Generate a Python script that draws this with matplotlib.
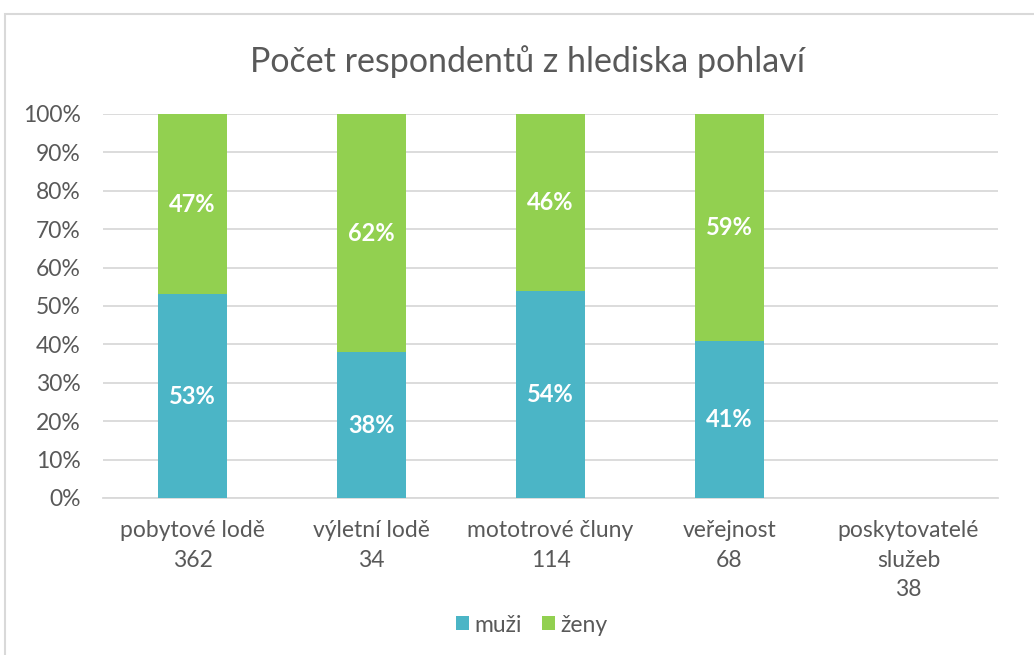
import matplotlib
matplotlib.use("Agg")
import matplotlib.pyplot as plt
import matplotlib.patches as mpatches
import numpy as np

# ── Data ──────────────────────────────────────────────────────────────────────
categories = ["pobytové lodě", "výletní lodě", "mototrové čluny", "veřejnost",
              "poskytovatelé\nslužeb"]
respondents = [362, 34, 114, 68, 38]
muzi = [53, 38, 54, 41, np.nan]
zeny = [47, 62, 46, 59, np.nan]
y_ticks = [0, 10, 20, 30, 40, 50, 60, 70, 80, 90, 100]

# ── Style ─────────────────────────────────────────────────────────────────────
C_MUZI = "#4BB5C6"
C_ZENY = "#92D050"
C_TEXT = "#595959"
C_GRID = "#D9D9D9"
FS_TICK = 16.5

plt.rcParams.update({
    "font.family": ["Lato", "DejaVu Sans"],
    "text.color": C_TEXT,
    "xtick.color": C_TEXT,
    "ytick.color": C_TEXT,
})

fig = plt.figure(figsize=(10.34, 6.55), dpi=100)
ax = fig.add_axes([103 / 1034, 1 - 498 / 655, 895 / 1034, 384 / 655])

# chart frame
fig.patches.append(mpatches.Rectangle(
    (5 / 1034, -0.05), 1.2, 1 - 14 / 655 + 0.05, transform=fig.transFigure,
    fill=False, edgecolor=C_GRID, linewidth=1.5, zorder=0))

x = np.arange(len(categories))
width = 0.39
b1 = ax.bar(x, muzi, width, color=C_MUZI, label="muži", zorder=3)
b2 = ax.bar(x, zeny, width, bottom=muzi, color=C_ZENY, label="ženy", zorder=3)

for bars, vals, base in ((b1, muzi, [0] * 5), (b2, zeny, muzi)):
    for xi, v, b in zip(x, vals, base):
        if np.isnan(v):
            continue
        ax.text(xi, b + v / 2, f"{v:.0f}%", ha="center", va="center",
                color="white", fontsize=17, fontweight="bold", zorder=4)

ax.set_xlim(-0.5, len(categories) - 0.5)
ax.set_ylim(0, 100)
ax.set_yticks(y_ticks)
ax.set_yticklabels([f"{t}%" for t in y_ticks], fontsize=FS_TICK)
ax.set_xticks(x)
ax.set_xticklabels([f"{c}\n{n}" for c, n in zip(categories, respondents)],
                   fontsize=FS_TICK, linespacing=1.5)
ax.tick_params(length=0)
ax.tick_params(axis="x", pad=16)
ax.tick_params(axis="y", pad=16)

ax.yaxis.grid(True, color=C_GRID, linewidth=1.3, zorder=0)
ax.set_axisbelow(True)
for s in ("top", "right", "left"):
    ax.spines[s].set_visible(False)
ax.spines["bottom"].set_color(C_GRID)
ax.spines["bottom"].set_linewidth(1.3)

fig.text(528 / 1034, 1 - 62 / 655, "Počet respondentů z hlediska pohlaví",
         ha="center", va="center", fontsize=24.5, color=C_TEXT)

fig.legend(handles=[b1, b2], loc="center", bbox_to_anchor=(532 / 1034, 1 - 625 / 655),
           ncol=2, frameon=False, fontsize=FS_TICK, handlelength=0.55, handleheight=0.55,
           handletextpad=0.25, columnspacing=0.9)

fig.savefig("out.png", dpi=100)
